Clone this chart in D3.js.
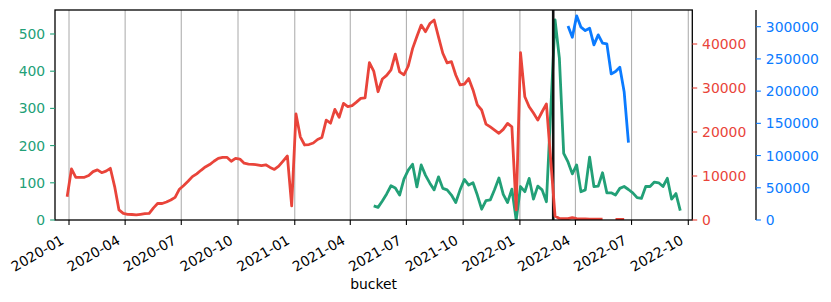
<!DOCTYPE html>
<html lang="en">
<head>
<meta charset="UTF-8" />
<title>bucket</title>
<script src="https://cdn.jsdelivr.net/npm/d3@7"></script>
<style>
  body { margin: 0; background: #fff; }
  text { font-family: "DejaVu Sans", sans-serif; font-size: 13.9px; }
</style>
</head>
<body>
<svg id="chart" width="831" height="302"></svg>
<script>
// weekly buckets (2022-02-20 is absent)
var weeks = [
  "2019-12-29","2020-01-05","2020-01-12","2020-01-19","2020-01-26","2020-02-02","2020-02-09","2020-02-16","2020-02-23",
  "2020-03-01","2020-03-08","2020-03-15","2020-03-22","2020-03-29","2020-04-05","2020-04-12","2020-04-19","2020-04-26",
  "2020-05-03","2020-05-10","2020-05-17","2020-05-24","2020-05-31","2020-06-07","2020-06-14","2020-06-21","2020-06-28",
  "2020-07-05","2020-07-12","2020-07-19","2020-07-26","2020-08-02","2020-08-09","2020-08-16","2020-08-23","2020-08-30",
  "2020-09-06","2020-09-13","2020-09-20","2020-09-27","2020-10-04","2020-10-11","2020-10-18","2020-10-25","2020-11-01",
  "2020-11-08","2020-11-15","2020-11-22","2020-11-29","2020-12-06","2020-12-13","2020-12-20","2020-12-27","2021-01-03",
  "2021-01-10","2021-01-17","2021-01-24","2021-01-31","2021-02-07","2021-02-14","2021-02-21","2021-02-28","2021-03-07",
  "2021-03-14","2021-03-21","2021-03-28","2021-04-04","2021-04-11","2021-04-18","2021-04-25","2021-05-02","2021-05-09",
  "2021-05-16","2021-05-23","2021-05-30","2021-06-06","2021-06-13","2021-06-20","2021-06-27","2021-07-04","2021-07-11",
  "2021-07-18","2021-07-25","2021-08-01","2021-08-08","2021-08-15","2021-08-22","2021-08-29","2021-09-05","2021-09-12",
  "2021-09-19","2021-09-26","2021-10-03","2021-10-10","2021-10-17","2021-10-24","2021-10-31","2021-11-07","2021-11-14",
  "2021-11-21","2021-11-28","2021-12-05","2021-12-12","2021-12-19","2021-12-26","2022-01-02","2022-01-09","2022-01-16",
  "2022-01-23","2022-01-30","2022-02-06","2022-02-13","2022-02-27","2022-03-06","2022-03-13","2022-03-20","2022-03-27",
  "2022-04-03","2022-04-10","2022-04-17","2022-04-24","2022-05-01","2022-05-08","2022-05-15","2022-05-22","2022-05-29",
  "2022-06-05","2022-06-12","2022-06-19","2022-06-26","2022-07-03","2022-07-10","2022-07-17","2022-07-24","2022-07-31",
  "2022-08-07","2022-08-14","2022-08-21","2022-08-28","2022-09-04","2022-09-11","2022-09-18"
];

// red series (right axis), starts at first week
var redStart = "2019-12-29";
var redValues = [
  5300,11600,9700,9700,9700,10100,11000,11400,10750,11100,11750,7600,2300,1500,1300,1250,1150,1300,1450,1500,
  2750,3800,3750,4100,4550,5150,7000,7850,8800,9850,10500,11300,12050,12600,13350,14000,14250,14250,13350,14000,
  13850,12900,12700,12650,12550,12350,12550,11950,11500,12250,13400,14550,3200,24100,18900,17050,17150,17500,18300,18750,
  22700,22000,25150,23350,26500,25750,26000,26800,27650,27750,35750,33850,29150,32050,32850,34100,37700,33650,33000,35000,
  38950,41700,44300,42800,44650,45450,41600,37900,35700,36000,32950,30700,30900,32150,29550,26150,25000,21800,21150,20450,
  19700,20600,21950,21150,2300,38050,28000,25750,24300,22700,24600,26350,900,350,300,300,550,300,250,250,
  200,200,200,200,null,null,150,150,150
];

// green series (left axis)
var greenStart = "2021-05-09";
var greenValues = [
  38,34,51,70,92,86,67,110,134,150,89,148,120,99,81,116,85,81,67,47,
  81,109,94,100,67,29,52,54,82,113,69,47,83,0,90,76,112,56,91,81,
  49,538,435,179,156,124,148,76,81,169,90,91,127,73,73,67,85,90,82,73,
  60,58,90,90,102,100,90,112,56,71,25
];

// blue series (outer right axis)
var blueStart = "2022-03-20";
var blueValues = [
  301200,283700,316800,299200,294000,297700,271700,287300,274400,273300,226700,230300,237100,199200,120000
];

var eventDate = "2022-02-24";

var greenTicks = [0, 100, 200, 300, 400, 500];
var redTicks = [0, 10000, 20000, 30000, 40000];
var blueTicks = [0, 50000, 100000, 150000, 200000, 250000, 300000];

var green = "#22a077", red = "#e9443a", blue = "#0b7bff";

var pLeft = 55, pRight = 692.3, pTop = 10, pBottom = 220, blueAxisX = 756;
var parse = d3.utcParse("%Y-%m-%d");

var svg = d3.select("#chart");

var x = d3.scaleUtc()
  .domain([new Date(Date.UTC(2019, 11, 9, 7)), new Date(Date.UTC(2022, 9, 7, 12))])
  .range([pLeft, pRight]);
var yGreen = d3.scaleLinear().domain([0, 564.5]).range([pBottom, pTop]);
var yRed = d3.scaleLinear().domain([0, 47727]).range([pBottom, pTop]);
var yBlue = d3.scaleLinear().domain([0, 325900]).range([pBottom, pTop]);

function series(start, values) {
  var i0 = weeks.indexOf(start);
  return values.map(function(v, i) { return { date: parse(weeks[i0 + i]), value: v }; });
}

var xTicks = x.ticks(d3.utcMonth.every(3));

// grid
svg.append("g").selectAll("line")
  .data(xTicks).enter().append("line")
  .attr("x1", function(d) { return x(d); }).attr("x2", function(d) { return x(d); })
  .attr("y1", pTop).attr("y2", pBottom)
  .attr("stroke", "#b0b0b0").attr("stroke-width", 1.1);

svg.append("clipPath").attr("id", "clip")
  .append("rect").attr("x", pLeft).attr("y", pTop).attr("width", pRight - pLeft).attr("height", pBottom - pTop);

var plot = svg.append("g").attr("clip-path", "url(#clip)");

function drawLine(data, y, color) {
  var line = d3.line()
    .defined(function(d) { return d.value !== null; })
    .x(function(d) { return x(d.date); })
    .y(function(d) { return y(d.value); });
  plot.append("path").datum(data)
    .attr("fill", "none").attr("stroke", color).attr("stroke-width", 2.8)
    .attr("stroke-linejoin", "round").attr("stroke-linecap", "butt")
    .attr("d", line);
}

drawLine(series(greenStart, greenValues), yGreen, green);
plot.append("line")
  .attr("x1", x(parse(eventDate))).attr("x2", x(parse(eventDate)))
  .attr("y1", pTop).attr("y2", pBottom)
  .attr("stroke", "#111").attr("stroke-width", 2.6);
drawLine(series(redStart, redValues), yRed, red);
drawLine(series(blueStart, blueValues), yBlue, blue);

// frame
svg.append("rect").attr("x", pLeft).attr("y", pTop).attr("width", pRight - pLeft).attr("height", pBottom - pTop)
  .attr("fill", "none").attr("stroke", "#000").attr("stroke-width", 1.3);
svg.append("line").attr("x1", blueAxisX).attr("x2", blueAxisX).attr("y1", pTop).attr("y2", pBottom)
  .attr("stroke", "#000").attr("stroke-width", 1.3);

// x axis
var xa = svg.append("g");
xa.selectAll("line").data(xTicks).enter().append("line")
  .attr("x1", function(d) { return x(d); }).attr("x2", function(d) { return x(d); })
  .attr("y1", pBottom).attr("y2", pBottom + 4.9)
  .attr("stroke", "#000").attr("stroke-width", 1.1);
xa.selectAll("text").data(xTicks).enter().append("text")
  .attr("text-anchor", "end")
  .attr("transform", function(d) { return "translate(" + (x(d) - 4) + "," + 243 + ") rotate(-30)"; })
  .text(d3.utcFormat("%Y-%m"));
svg.append("text").attr("x", (pLeft + pRight) / 2).attr("y", 289).attr("text-anchor", "middle").text("bucket");

// y axes
function yAxis(ticks, y, xPos, dir, color) {
  var g = svg.append("g");
  g.selectAll("line").data(ticks).enter().append("line")
    .attr("x1", xPos).attr("x2", xPos + dir * 4.9)
    .attr("y1", function(d) { return y(d); }).attr("y2", function(d) { return y(d); })
    .attr("stroke", color).attr("stroke-width", 1.1);
  g.selectAll("text").data(ticks).enter().append("text")
    .attr("x", xPos + dir * 9.8)
    .attr("y", function(d) { return y(d); })
    .attr("dy", "0.36em")
    .attr("text-anchor", dir < 0 ? "end" : "start")
    .attr("fill", color)
    .text(function(d) { return d; });
}
yAxis(greenTicks, yGreen, pLeft, -1, green);
yAxis(redTicks, yRed, pRight, 1, red);
yAxis(blueTicks, yBlue, blueAxisX, 1, blue);
</script>
</body>
</html>
